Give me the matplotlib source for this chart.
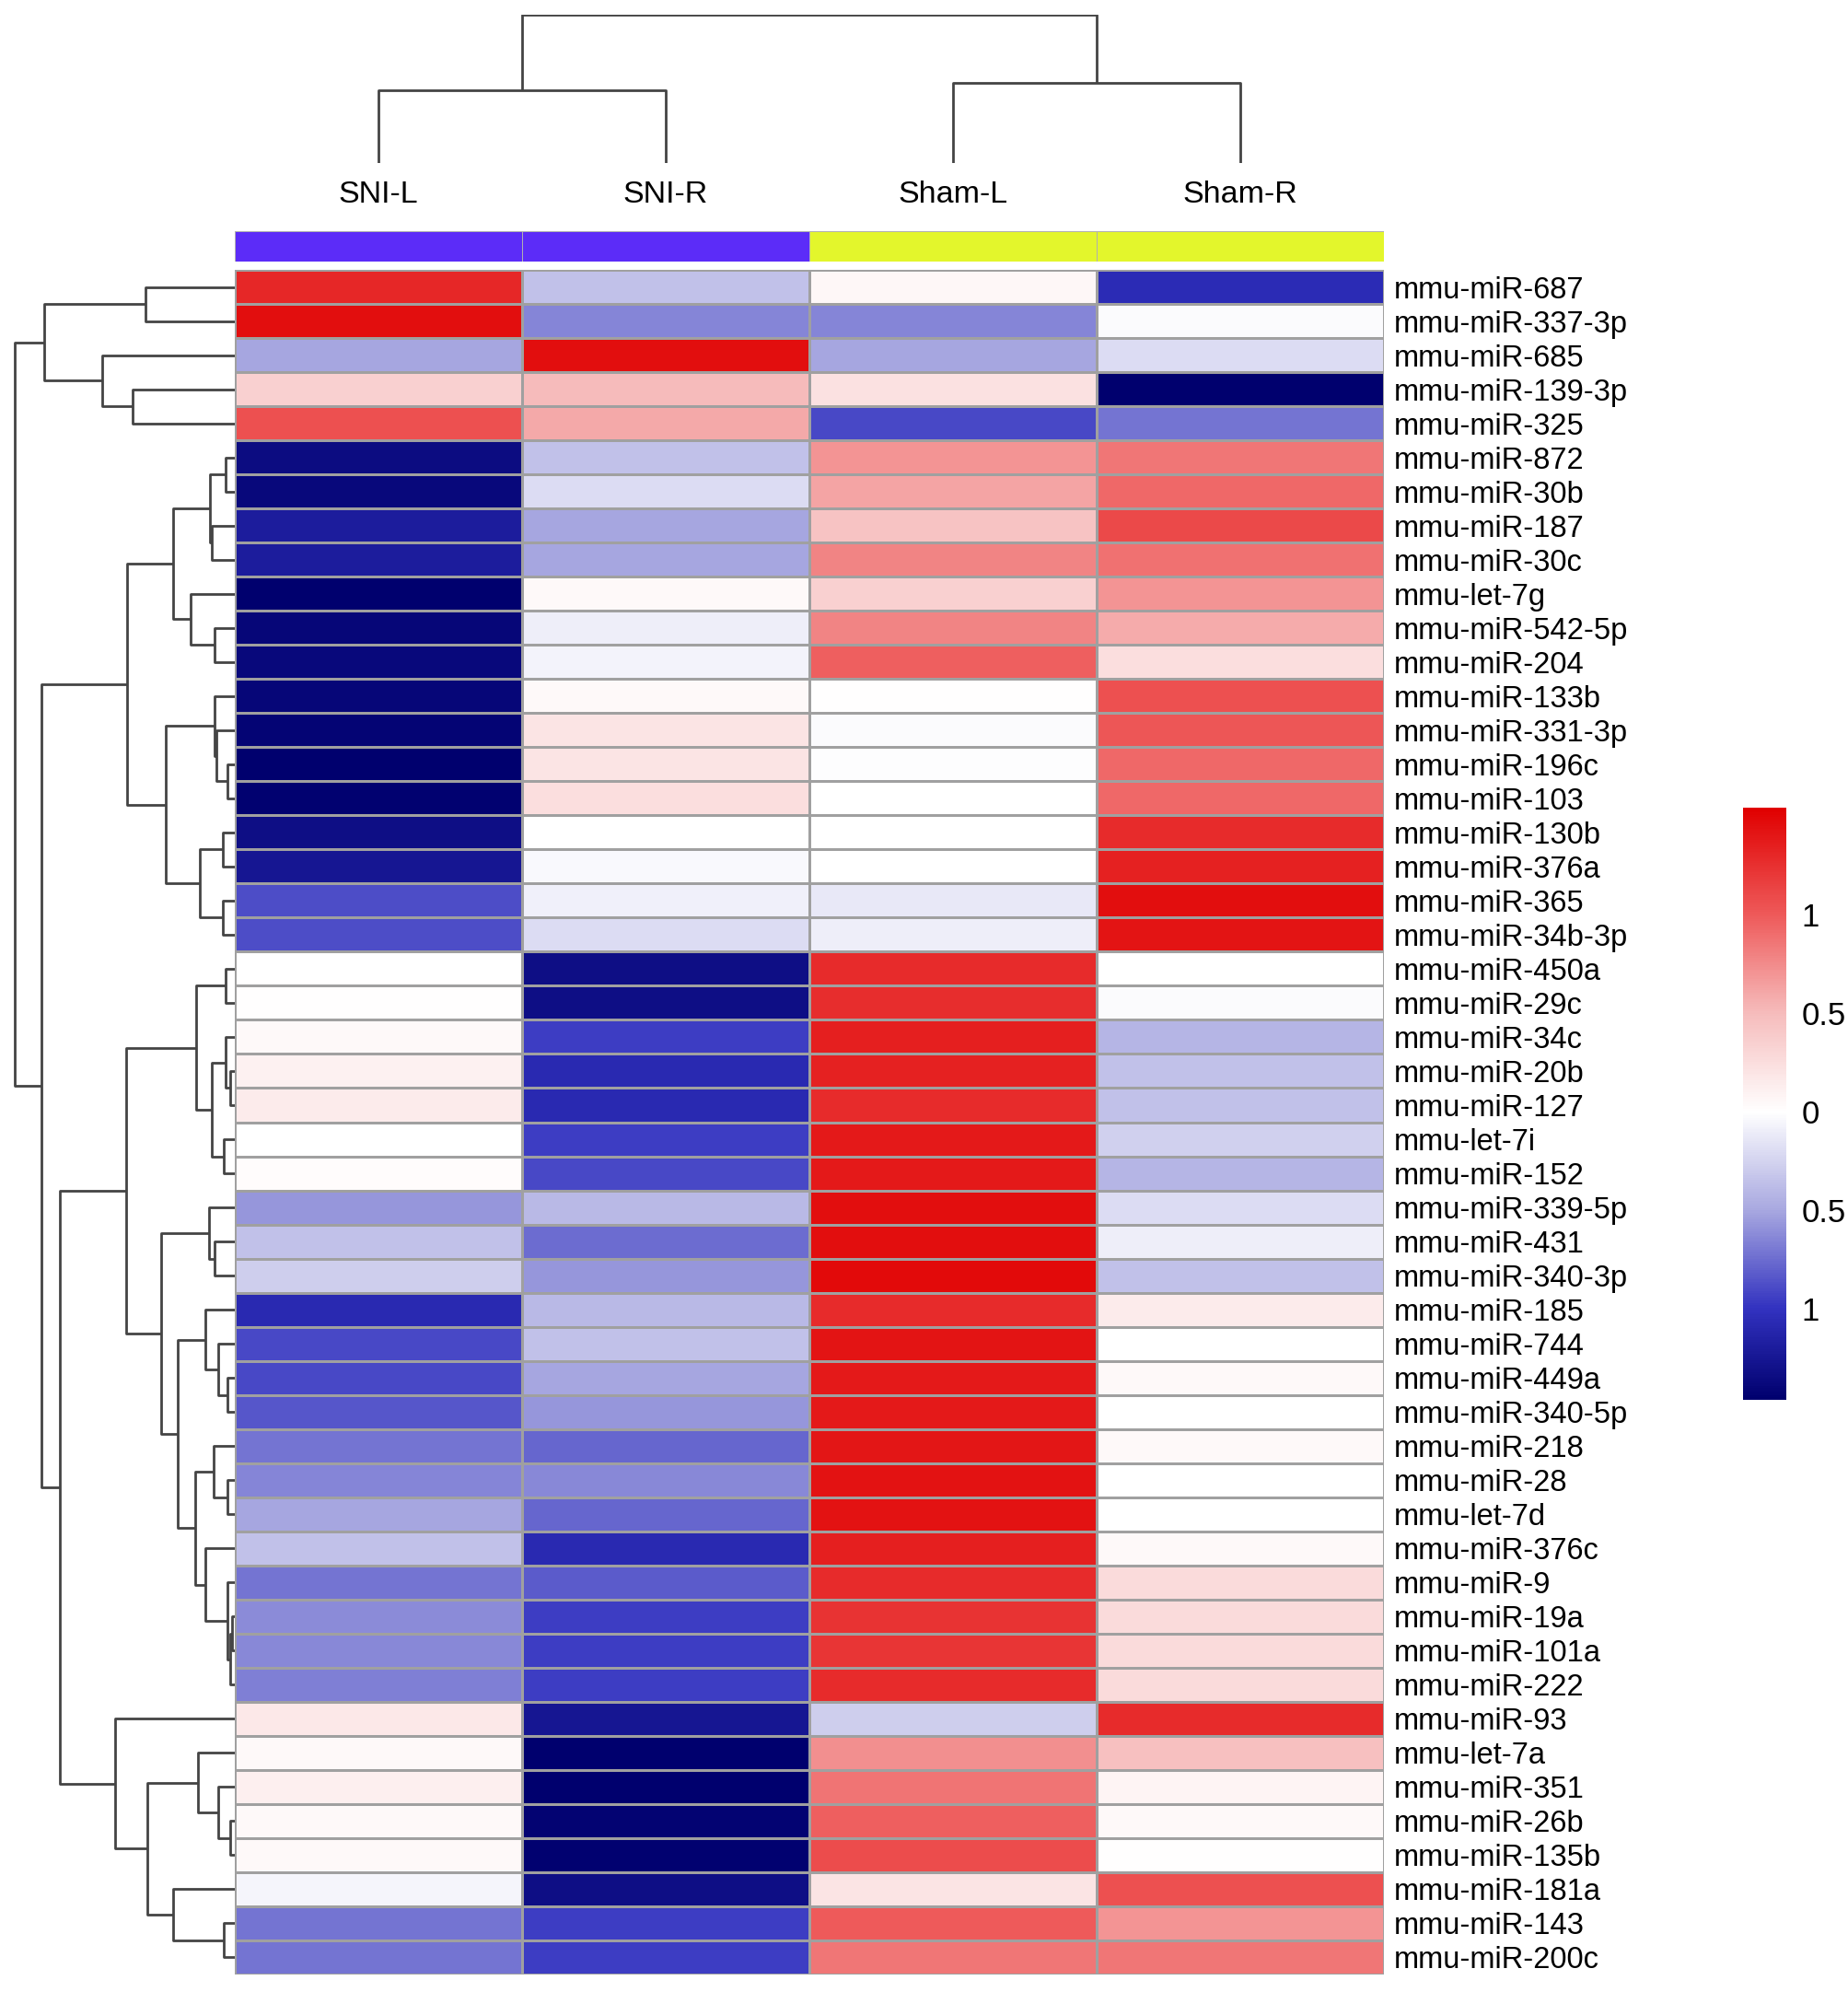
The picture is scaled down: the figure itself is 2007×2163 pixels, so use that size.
import matplotlib
matplotlib.use("Agg")
import matplotlib.pyplot as plt
import numpy as np
from matplotlib.colors import LinearSegmentedColormap, Normalize, ListedColormap

plt.rcParams['font.family'] = ['Liberation Sans', 'DejaVu Sans']

samples = ["SNI-L", "SNI-R", "Sham-L", "Sham-R"]
groups = ["SNI", "SNI", "Sham", "Sham"]
group_colors = {"SNI": "#5C2CF8", "Sham": "#E3F62C"}

mirnas = ["mmu-miR-687", "mmu-miR-337-3p", "mmu-miR-685", "mmu-miR-139-3p", "mmu-miR-325",
          "mmu-miR-872", "mmu-miR-30b", "mmu-miR-187", "mmu-miR-30c", "mmu-let-7g",
          "mmu-miR-542-5p", "mmu-miR-204", "mmu-miR-133b", "mmu-miR-331-3p", "mmu-miR-196c",
          "mmu-miR-103", "mmu-miR-130b", "mmu-miR-376a", "mmu-miR-365", "mmu-miR-34b-3p",
          "mmu-miR-450a", "mmu-miR-29c", "mmu-miR-34c", "mmu-miR-20b", "mmu-miR-127",
          "mmu-let-7i", "mmu-miR-152", "mmu-miR-339-5p", "mmu-miR-431", "mmu-miR-340-3p",
          "mmu-miR-185", "mmu-miR-744", "mmu-miR-449a", "mmu-miR-340-5p", "mmu-miR-218",
          "mmu-miR-28", "mmu-let-7d", "mmu-miR-376c", "mmu-miR-9", "mmu-miR-19a",
          "mmu-miR-101a", "mmu-miR-222", "mmu-miR-93", "mmu-let-7a", "mmu-miR-351",
          "mmu-miR-26b", "mmu-miR-135b", "mmu-miR-181a", "mmu-miR-143", "mmu-miR-200c"]

# scaled expression, one column per sample
sni_l = [1.30, 1.45, -0.50, 0.35, 1.05, -1.35, -1.38, -1.20, -1.20, -1.45,
         -1.40, -1.38, -1.40, -1.42, -1.45, -1.44, -1.33, -1.25, -0.88, -0.88,
         0.00, 0.01, 0.05, 0.10, 0.15, 0.00, 0.02, -0.58, -0.35, -0.28,
         -1.08, -0.90, -0.90, -0.85, -0.72, -0.65, -0.50, -0.35, -0.72, -0.62,
         -0.63, -0.67, 0.18, 0.04, 0.12, 0.05, 0.05, -0.06, -0.72, -0.72]
sni_r = [-0.35, -0.65, 1.45, 0.50, 0.60, -0.35, -0.20, -0.50, -0.50, 0.05,
         -0.10, -0.07, 0.05, 0.20, 0.20, 0.25, 0.00, -0.04, -0.08, -0.20,
         -1.33, -1.33, -0.95, -1.08, -1.08, -0.95, -0.90, -0.40, -0.75, -0.58,
         -0.40, -0.35, -0.50, -0.58, -0.77, -0.63, -0.77, -1.08, -0.82, -0.95,
         -0.95, -0.95, -1.25, -1.46, -1.45, -1.43, -1.44, -1.32, -0.95, -0.95]
sham_l = [0.06, -0.65, -0.50, 0.22, -0.90, 0.70, 0.62, 0.45, 0.78, 0.35,
          0.78, 0.97, 0.01, -0.02, -0.01, 0.00, 0.00, 0.00, -0.13, -0.10,
          1.28, 1.27, 1.35, 1.33, 1.28, 1.38, 1.38, 1.45, 1.45, 1.48,
          1.28, 1.42, 1.38, 1.38, 1.40, 1.43, 1.43, 1.35, 1.28, 1.23,
          1.22, 1.28, -0.28, 0.72, 0.87, 0.97, 1.08, 0.20, 1.00, 0.85]
sham_r = [-1.05, -0.03, -0.20, -1.45, -0.72, 0.85, 0.92, 1.10, 0.88, 0.70,
          0.58, 0.25, 1.05, 1.02, 0.93, 0.93, 1.28, 1.33, 1.45, 1.42,
          0.00, -0.02, -0.42, -0.35, -0.35, -0.27, -0.42, -0.20, -0.10, -0.35,
          0.15, 0.00, 0.05, 0.00, 0.05, 0.00, 0.00, 0.05, 0.27, 0.27,
          0.27, 0.27, 1.28, 0.47, 0.08, 0.05, 0.01, 1.05, 0.70, 0.85]

# dendrograms as nested (height, left, right); leaves are row / column positions
row_tree = (239,
            (207, (97, 1, 2), (144, 3, (111, 4, 5))),
            (210,
             (117,
              (67, (27, (10, 6, 7), (25, 8, 9)), (48, 10, (22, 11, 12))),
              (75, (22, 13, (20, 14, (8, 15, 16))), (38, (13, 17, 18), (13, 19, 20)))),
             (190,
              (118,
               (42, (10, 21, 22), (25, (10, 23, (5, 24, 25)), (12, 26, 27))),
               (80, (28, 28, (22, 29, 30)),
                (62, (32, 31, (18, 32, (8, 33, 34))),
                 (43, (23, 35, (8, 36, 37)), (32, 38, (8, 39, (5, (3, 40, 41), 42))))))),
              (130, 43, (95, (40, 44, (18, 45, (5, 46, 47))), (67, 48, (12, 49, 50)))))))
col_tree = (161, (79, 1, 2), (87, 3, 4))

vmin, vmax = -1.46, 1.54
anchors = [(-1.46, "#00006E"), (-1.0, "#3232C0"), (-0.5, "#A8A8E0"), (0.0, "#FFFFFF"),
           (0.5, "#F6BCBC"), (1.0, "#EE5A5A"), (1.54, "#E00000")]
cmap = LinearSegmentedColormap.from_list(
    "bwr_ph", [((v - vmin) / (vmax - vmin), c) for v, c in anchors])

data = np.array([sni_l, sni_r, sham_l, sham_r]).T
n_rows, n_cols = data.shape

W, H = 2008, 2163
fig = plt.figure(figsize=(W / 100, H / 100), dpi=100)


def frac(x0, y0, x1, y1):
    # pixel box -> figure fraction [left, bottom, width, height]
    return [x0 / W, 1 - y1 / H, (x1 - x0) / W, (y1 - y0) / H]


hx0, hx1, hy0, hy1 = 255, 1503, 293, 2144
ax = fig.add_axes(frac(hx0, hy0, hx1, hy1))
mesh = ax.pcolormesh(data, cmap=cmap, norm=Normalize(vmin, vmax),
                     edgecolors="#A0A0A0", linewidth=0.8)
ax.set_xlim(0, n_cols)
ax.set_ylim(n_rows, 0)
ax.set_xticks([])
ax.set_yticks(np.arange(n_rows) + 0.5)
ax.set_yticklabels(mirnas, fontsize=23.5)
ax.yaxis.tick_right()
ax.tick_params(axis="y", length=0, pad=8)
for s in ax.spines.values():
    s.set_visible(False)

# column annotation bar
ax_ann = fig.add_axes(frac(hx0, 251, hx1, 284))
gcodes = [0 if g == "SNI" else 1 for g in groups]
ax_ann.pcolormesh(np.array([gcodes]),
                  cmap=ListedColormap([group_colors["SNI"], group_colors["Sham"]]),
                  vmin=0, vmax=1, edgecolors="#B0B0B0", linewidth=0.6)
ax_ann.set_xlim(0, n_cols)
ax_ann.axis("off")

# column labels
for i, name in enumerate(samples):
    fig.text((hx0 + (i + 0.5) * (hx1 - hx0) / n_cols) / W, 1 - 212 / H, name,
             ha="center", va="center", fontsize=24.5)

line_kw = dict(color="#444444", lw=2.0, solid_capstyle="butt")


def draw_tree(axis, node, horizontal):
    # returns (leaf position, height) of node and draws its links
    if isinstance(node, int):
        return node - 0.5, 0
    h, left, right = node
    pl, hl = draw_tree(axis, left, horizontal)
    pr, hr = draw_tree(axis, right, horizontal)
    if horizontal:
        axis.plot([hl, h, h, hr], [pl, pl, pr, pr], **line_kw)
    else:
        axis.plot([pl, pl, pr, pr], [hl, h, h, hr], **line_kw)
    return (pl + pr) / 2, h


ax_rd = fig.add_axes(frac(0, hy0, hx0, hy1))
draw_tree(ax_rd, row_tree, True)
ax_rd.set_xlim(255, 0)
ax_rd.set_ylim(n_rows, 0)
ax_rd.axis("off")

ax_cd = fig.add_axes(frac(hx0, 16, hx1, 177))
draw_tree(ax_cd, col_tree, False)
ax_cd.set_xlim(0, n_cols)
ax_cd.set_ylim(0, 161)
ax_cd.axis("off")

# colour key
cax = fig.add_axes(frac(1893, 877, 1940, 1520))
cb = fig.colorbar(mesh, cax=cax)
cb.outline.set_visible(False)
cb.set_ticks([-1, -0.5, 0, 0.5, 1])
cb.set_ticklabels(["1", "0.5", "0", "0.5", "1"])
cax.tick_params(length=0, pad=12, labelsize=25)

fig.savefig("out.png", dpi=100)
